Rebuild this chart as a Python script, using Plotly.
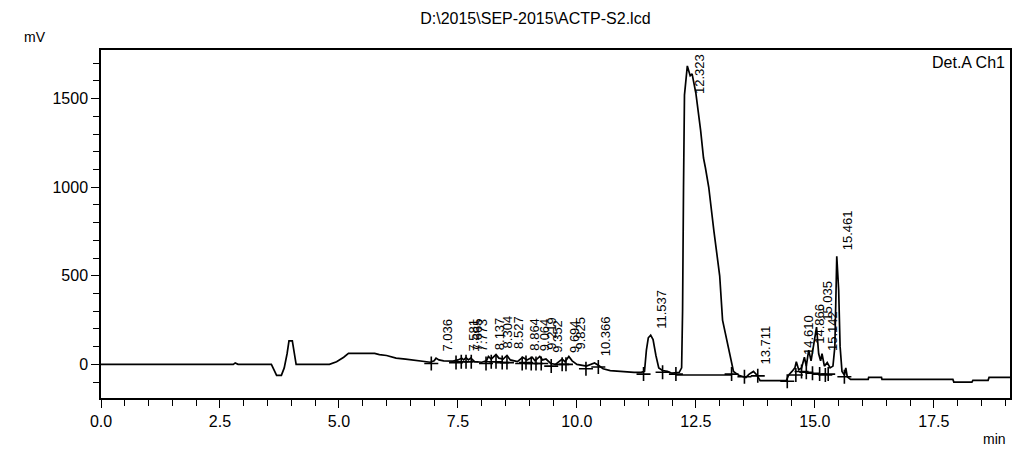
import plotly.graph_objects as go

# ---- data ----
time_min = [0.0, 2.78, 2.82, 2.88, 3.58, 3.63, 3.69, 3.79, 3.85, 3.91, 3.95, 4.02, 4.06, 4.10,
            4.80, 4.95, 5.10, 5.20, 5.75, 5.85, 6.00, 6.20, 6.40, 6.70, 6.92,
            7.00, 7.04, 7.10, 7.20, 7.40, 7.50, 7.58, 7.62, 7.67, 7.72, 7.77, 7.85, 8.00,
            8.10, 8.14, 8.20, 8.30, 8.36, 8.45, 8.53, 8.60, 8.75, 8.86, 8.95, 9.06, 9.12,
            9.22, 9.28, 9.35, 9.45, 9.55, 9.69, 9.75, 9.83, 9.90, 10.00, 10.20, 10.37,
            10.45, 10.55, 10.70, 10.90, 11.20, 11.35, 11.42, 11.46, 11.50, 11.55, 11.60,
            11.66, 11.72, 11.80, 11.90, 12.00, 12.15, 12.20, 12.22, 12.24, 12.26, 12.32,
            12.38, 12.42, 12.50, 12.60, 12.66, 12.70, 12.77, 12.88, 13.00, 13.06, 13.19,
            13.29, 13.40, 13.55, 13.62, 13.71, 13.78, 13.85, 14.40, 14.45, 14.52, 14.58,
            14.61, 14.66, 14.72, 14.78, 14.82, 14.87, 14.92, 14.98, 15.035, 15.08, 15.12,
            15.15, 15.20, 15.26, 15.32, 15.38, 15.42, 15.46, 15.50, 15.53, 15.57, 15.62,
            15.65, 15.68, 15.75, 16.12, 16.13, 16.40, 16.41, 17.90, 17.92, 18.30, 18.32,
            18.64, 18.66, 19.10]
signal_mv = [0, 0, 8, 0, 0, -30, -62, -62, -20, 60, 132, 132, 60, 0,
             0, 15, 40, 62, 62, 55, 50, 35, 30, 20, 12,
             20, 35, 25, 20, 18, 25, 35, 25, 38, 25, 35, 15, 12,
             20, 45, 30, 55, 35, 30, 50, 25, 15, 40, 25, 40, 20,
             45, 25, 30, 5, 0, 30, 15, 45, 20, 0, -10, 8,
             -5, -25, -35, -40, -45, -45, -40, 80, 150, 165, 140,
             50, -20, -35, -40, -50, -45, -20, 300, 1000, 1520, 1685,
             1630, 1640, 1530, 1320, 1165, 1110, 1000, 750, 500, 250, 75,
             -40, -62, -74, -55, -40, -60, -92, -92, -60, -40, -20,
             15, -30, -20, 40, -10, 80, 20, 120, 210, 60, 20,
             60, -10, 10, -20, -10, 100, 610, 420, 100, -40, -60,
             -20, -70, -85, -85, -74, -74, -85, -85, -100, -100, -90,
             -90, -74, -74]

peak_rt = ["7.036", "7.581", "7.665", "7.773", "8.137", "8.304", "8.527", "8.864",
           "9.064", "9.219", "9.352", "9.694", "9.825", "10.366", "11.537", "12.323",
           "13.711", "14.610", "14.866", "15.035", "15.142", "15.461"]
peak_height = [35, 35, 38, 35, 45, 55, 50, 40, 40, 45, 30, 30, 45, 8, 165, 1685,
               -40, 15, 80, 210, 40, 610]

mark_t = [6.94, 7.46, 7.57, 7.67, 7.78, 8.09, 8.20, 8.30, 8.43, 8.53, 8.85, 8.93,
          9.04, 9.14, 9.25, 9.46, 9.69, 9.77, 10.19, 10.45, 11.40, 11.80, 12.08,
          13.25, 13.52, 13.80, 14.42, 14.60, 14.72, 14.82, 14.95, 15.10, 15.22,
          15.28, 15.62]
mark_v = [5, 10, 15, 15, 15, 5, 15, 15, 10, 10, 5, 10, 5, 5, 5, -10, 0, 0, -25,
          -15, -55, -45, -55, -55, -70, -65, -95, -60, -40, -45, -50, -55, -60,
          -55, -70]

base_t = [12.08, 13.25]
base_v = [-60, -60]

x_ticks = [0.0, 2.5, 5.0, 7.5, 10.0, 12.5, 15.0, 17.5]
y_ticks = [0, 500, 1000, 1500]

FONT = "Liberation Sans, Arial, sans-serif"

fig = go.Figure()
fig.add_trace(go.Scatter(x=time_min, y=signal_mv, mode="lines",
                         line=dict(color="black", width=1.7), hoverinfo="skip"))
fig.add_trace(go.Scatter(x=base_t, y=base_v, mode="lines",
                         line=dict(color="black", width=1.3), hoverinfo="skip"))
fig.add_trace(go.Scatter(x=mark_t, y=mark_v, mode="markers",
                         marker=dict(symbol="cross-thin", size=10,
                                     line=dict(color="black", width=1.6)),
                         hoverinfo="skip"))

YMAX = 1775
for rt, h in zip(peak_rt, peak_height):
    ypos = h + 25
    if ypos > 1500:
        fig.add_annotation(x=float(rt), y=YMAX, text=rt, textangle=-90,
                           xanchor="left", yanchor="top", showarrow=False,
                           xshift=2, yshift=-2,
                           font=dict(family=FONT, size=13, color="black"))
    else:
        fig.add_annotation(x=float(rt), y=ypos, text=rt, textangle=-90,
                           xanchor="left", yanchor="bottom", showarrow=False,
                           xshift=2,
                           font=dict(family=FONT, size=13, color="black"))

fig.add_annotation(xref="paper", yref="paper", x=-0.087, y=1.01, text="mV",
                   showarrow=False, xanchor="left", yanchor="bottom",
                   font=dict(family=FONT, size=14, color="black"))
fig.add_annotation(xref="paper", yref="paper", x=0.998, y=-0.09, text="min",
                   showarrow=False, xanchor="right", yanchor="top",
                   font=dict(family=FONT, size=14, color="black"))
fig.add_annotation(xref="paper", yref="paper", x=1, y=1, text="Det.A Ch1",
                   showarrow=False, xanchor="right", yanchor="top",
                   xshift=-3, yshift=-2,
                   font=dict(family=FONT, size=16, color="black"))

fig.update_layout(
    width=1014, height=452,
    margin=dict(l=101, r=2, t=50, b=54),
    paper_bgcolor="white", plot_bgcolor="white",
    showlegend=False,
    title=dict(text="D:\\2015\\SEP-2015\\ACTP-S2.lcd", x=0.528, xanchor="center",
               y=0.96, yanchor="middle",
               font=dict(family=FONT, size=16, color="black")),
    font=dict(family=FONT, color="black"),
)
fig.update_xaxes(range=[0, 19.1], tickvals=x_ticks,
                 ticktext=[f"{v:.1f}" for v in x_ticks],
                 ticks="outside", ticklen=8, tickwidth=1.2, tickcolor="black",
                 minor=dict(dtick=0.5, ticks="outside", ticklen=6, tickwidth=1,
                            tickcolor="black"),
                 showline=True, linecolor="black", linewidth=1.5, mirror=True,
                 showgrid=False, zeroline=False,
                 tickfont=dict(family=FONT, size=16, color="black"))
fig.update_yaxes(range=[-190, YMAX], tickvals=y_ticks,
                 ticks="outside", ticklen=8, tickwidth=1.2, tickcolor="black",
                 minor=dict(dtick=100, ticks="outside", ticklen=6, tickwidth=1,
                            tickcolor="black"),
                 showline=True, linecolor="black", linewidth=1.5, mirror=True,
                 showgrid=False, zeroline=False,
                 tickfont=dict(family=FONT, size=16, color="black"))

fig.write_html("out.html", config={"displayModeBar": False},
               post_script="document.body.style.margin='0px';")
